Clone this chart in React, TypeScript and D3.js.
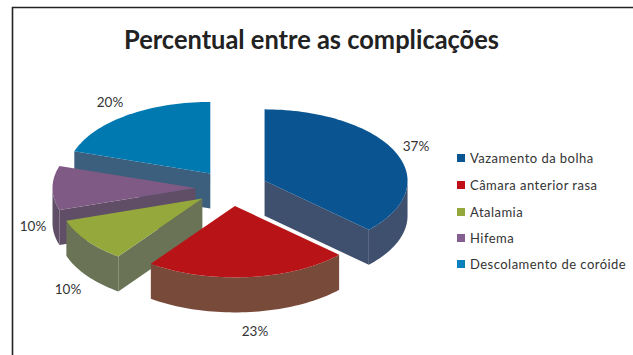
import React from "react";
import * as d3 from "d3";

// Complication shares, in percent, and their series colours
const categories = ["Vazamento da bolha", "Câmara anterior rasa", "Atalamia", "Hifema", "Descolamento de coróide"];
const percentages = [37, 23, 10, 10, 20];
const topColors = ["#0a5591", "#b81317", "#94a83c", "#7f5a84", "#0078b0"];
const wallColors = ["#3f4f6e", "#784a3a", "#6a7355", "#5f4e66", "#3c5f7d"];
const legendColors = ["#0a5591", "#c00f17", "#94a83c", "#83608f", "#0a80bd"];
const title = "Percentual entre as complicações";

const WIDTH = 633;
const HEIGHT = 355;
const FONT = "Lato, 'Open Sans', sans-serif";

// Tilted pie projection
const CX = 231.5;
const CY = 188;
const RX = 143;
const TILT = 0.5;
const DEPTH = 35;
const EXPLODE = 36;

// Label anchors keyed by slice order
const labelPositions: [number, number][] = [[416, 146], [255, 331], [68, 289], [33, 226], [110, 102]];
const legendRows = [158, 185, 212, 238, 264];

const pie = d3.pie<number>().sort(null).value((d) => d);
const slices = pie(percentages);
const line = d3.line<[number, number]>();

function project(cx: number, cy: number, angle: number, radius = RX): [number, number] {
  return [cx + radius * Math.sin(angle), cy - radius * TILT * Math.cos(angle)];
}

function arcPoints(cx: number, cy: number, a0: number, a1: number): [number, number][] {
  const steps = Math.max(2, Math.ceil((a1 - a0) / 0.03));
  return d3.range(steps + 1).map((i) => project(cx, cy, a0 + ((a1 - a0) * i) / steps));
}

function shifted(points: [number, number][]): [number, number][] {
  return points.map(([x, y]) => [x, y + DEPTH] as [number, number]);
}

function PieSlice({ index }: { index: number }) {
  const s = slices[index];
  const mid = (s.startAngle + s.endAngle) / 2;
  const [cx, cy] = project(CX, CY, mid, EXPLODE);
  const rim = arcPoints(cx, cy, s.startAngle, s.endAngle);
  const top = line([[cx, cy], ...rim])! + "Z";

  // The outer wall shows only on the near half of the rim
  const a0 = Math.max(s.startAngle, Math.PI / 2);
  const a1 = Math.min(s.endAngle, (3 * Math.PI) / 2);
  const near = a1 > a0 ? arcPoints(cx, cy, a0, a1) : [];
  const outer = near.length ? line([...near, ...shifted(near).reverse()])! + "Z" : null;

  // Cut faces turn toward the viewer on the side of the pie facing away from the slice body
  const startPoint = rim[0];
  const endPoint = rim[rim.length - 1];
  const faces: [number, number][][] = [];
  if (Math.sin(s.startAngle) < -0.001) faces.push([[cx, cy], startPoint]);
  if (Math.sin(s.endAngle) > 0.001) faces.push([[cx, cy], endPoint]);

  return (
    <g>
      {faces.map((f, i) => (
        <path key={i} d={line([...f, ...shifted(f).reverse()])! + "Z"} fill={wallColors[index]} />
      ))}
      {outer && <path d={outer} fill={wallColors[index]} />}
      <path d={top} fill={topColors[index]} />
    </g>
  );
}

export default function App() {
  // Back slices first so that nearer ones cover them
  const paintOrder = [4, 3, 2, 1, 0];
  return (
    <svg
      width={WIDTH}
      height={HEIGHT}
      viewBox={`0 0 ${WIDTH} ${HEIGHT}`}
      style={{ position: "absolute", left: 0, top: 0, background: "#fff" }}
    >
      <path d={`M12.5,${HEIGHT} V7.5 H${WIDTH}`} fill="none" stroke="#222" strokeWidth={1.6} />
      <text x={311.5} y={49} textAnchor="middle" fontFamily={FONT} fontWeight={700} fontSize={26} fill="#222" textLength={375} lengthAdjust="spacingAndGlyphs">
        {title}
      </text>
      {paintOrder.map((i) => (
        <PieSlice key={i} index={i} />
      ))}
      {percentages.map((p, i) => (
        <text key={i} x={labelPositions[i][0]} y={labelPositions[i][1]} dy="0.35em" textAnchor="middle" fontFamily={FONT} fontSize={13.5} fill="#333">
          {`${p}%`}
        </text>
      ))}
      {categories.map((c, i) => (
        <g key={c}>
          <rect x={457} y={legendRows[i] - 4} width={8} height={8} fill={legendColors[i]} />
          <text x={470} y={legendRows[i]} dy="0.35em" fontFamily={FONT} fontSize={13} letterSpacing={0.47} fill="#333">
            {c}
          </text>
        </g>
      ))}
    </svg>
  );
}
